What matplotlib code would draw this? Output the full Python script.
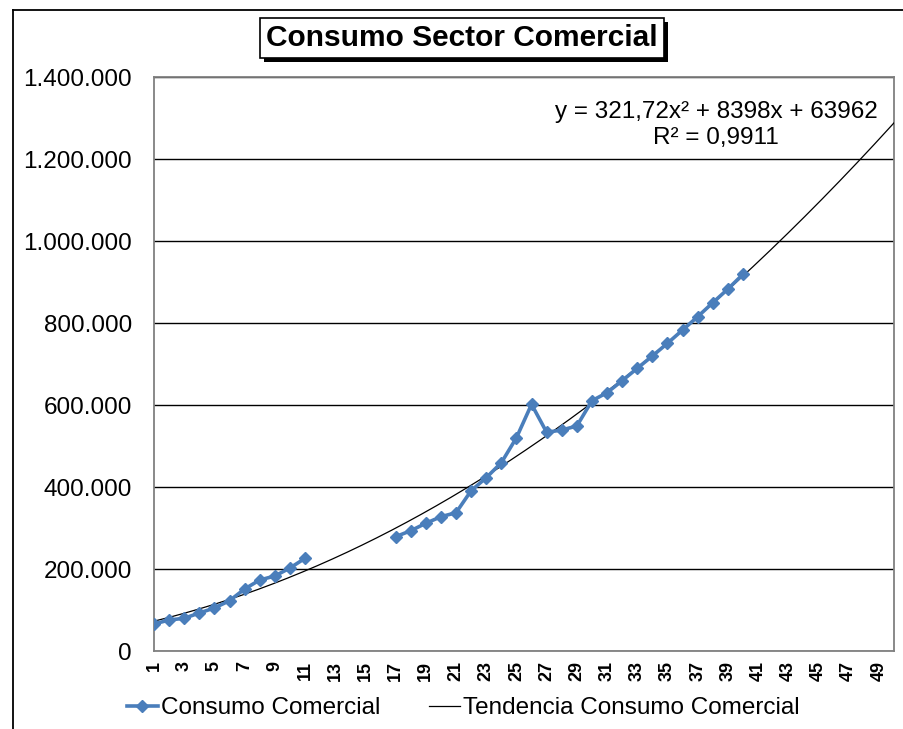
import numpy as np
import matplotlib
matplotlib.use("Agg")
import matplotlib.pyplot as plt
from matplotlib.lines import Line2D
from matplotlib import patheffects as pe
from matplotlib.ticker import FuncFormatter

plt.rcParams['font.family'] = ['Liberation Sans', 'DejaVu Sans']

# ---- data ----
periods = list(range(1, 41))
consumo = [65900, 75600, 79800, 92700, 104900, 122700, 151200, 173200, 182900, 202400,
           226100, None, None, None, None, None,
           278800, 293400, 311500, 327600, 337300, 391000, 422700, 459300, 520200, 601700,
           533400, 539000, 548800, 610500, 630000, 659300, 689500, 719500, 750500, 782900,
           815400, 849500, 882900, 918800]
trend_coef = [321.72, 8398, 63962]   # y = a x^2 + b x + c (from chart label)
trend_x = np.linspace(1, 50, 300)
x_ticks = list(range(1, 50, 2))
y_ticks = [0, 200000, 400000, 600000, 800000, 1000000, 1200000, 1400000]
title = "Consumo Sector Comercial"
eq_text = "y = 321,72x² + 8398x + 63962\nR² = 0,9911"

W, H = 904, 729
fig = plt.figure(figsize=(W / 100, H / 100), dpi=100)
ax = fig.add_axes([154 / W, 1 - 651 / H, (894 - 154) / W, (651 - 77) / H])

yvals = np.array([np.nan if v is None else v for v in consumo], dtype=float)
ax.plot(trend_x, np.polyval(trend_coef, trend_x), color='black', lw=0.9, zorder=3,
        label='Tendencia Consumo Comercial')
ax.plot(periods, yvals, color='#4A7EBB', lw=2.6, marker='D', ms=6.5,
        markeredgecolor='#4A7EBB', zorder=4, label='Consumo Comercial')

ax.set_xlim(1, 50)
ax.set_ylim(0, 1400000)
ax.set_xticks(x_ticks)
ax.set_xticklabels([str(t) for t in x_ticks], rotation=90, fontsize=13,
                   fontweight='bold',
                   family=['Liberation Sans Narrow', 'Liberation Sans', 'DejaVu Sans'])
ax.set_yticks(y_ticks)
ax.yaxis.set_major_formatter(FuncFormatter(lambda v, p: f"{int(v):,}".replace(",", ".")))
ax.tick_params(axis='y', length=0, pad=16, labelsize=17.5)
ax.tick_params(axis='x', length=0, pad=7)
ax.grid(axis='y', color='black', lw=1.0)
ax.set_axisbelow(True)
for s in ax.spines.values():
    s.set_color('#808080')
    s.set_linewidth(1.3)

# equation
fig.text(716 / W, 1 - 125 / H, eq_text, ha='center', va='center', fontsize=17.5,
         linespacing=1.2)

# title with shadow box
t = fig.text(462 / W, 1 - 38 / H, title, ha='center', va='center', fontsize=21.5,
             fontweight='bold',
             bbox=dict(boxstyle='square,pad=0.2', fc='white', ec='black', lw=1.2))
t.get_bbox_patch().set_path_effects([
    pe.SimplePatchShadow(offset=(3, -3), shadow_rgbFace='black', alpha=1.0),
    pe.Normal()])

# legend
handles, labels = ax.get_legend_handles_labels()
handles = handles[::-1]
labels = labels[::-1]
fig.legend(handles, labels, loc='center', bbox_to_anchor=(463 / W, 1 - 708 / H),
           ncol=2, frameon=False, fontsize=17.5, handlelength=1.3,
           handletextpad=0.1, columnspacing=2.0, borderpad=0)

# outer chart border (top and left visible)
fig.add_artist(Line2D([13.5 / W, 13.5 / W], [0, 1 - 9.5 / H], color='black', lw=1.3,
                      transform=fig.transFigure))
fig.add_artist(Line2D([13.5 / W, 1], [1 - 9.5 / H, 1 - 9.5 / H], color='black', lw=1.3,
                      transform=fig.transFigure))

fig.savefig('out.png', dpi=100)
